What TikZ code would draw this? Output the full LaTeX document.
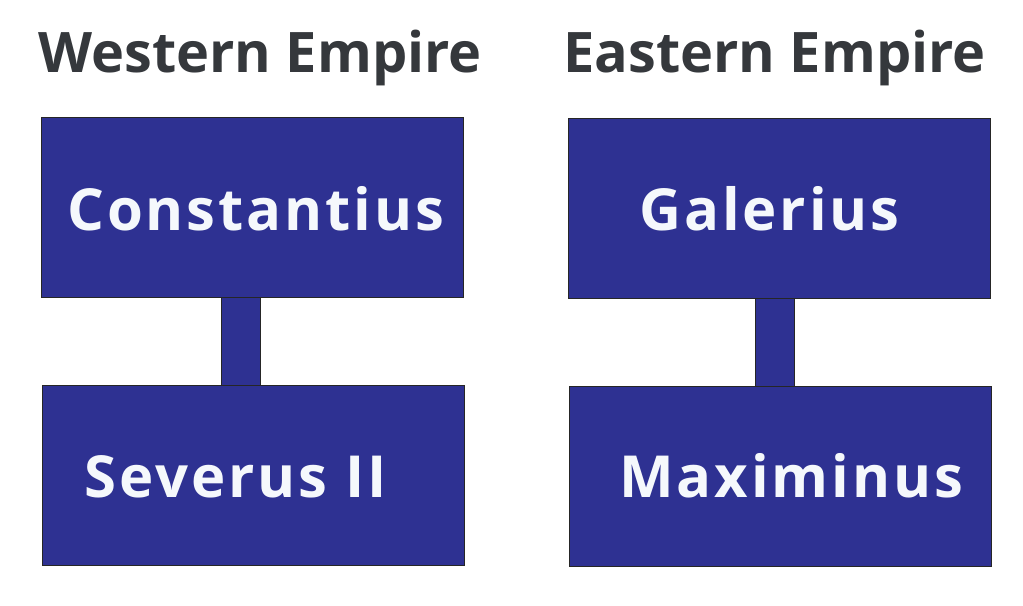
\documentclass[tikz,border=0pt]{standalone}
\usepackage{fontspec}
\setmainfont{Open Sans}
\newfontfamily\namefont[LetterSpace=5]{Open Sans}
\usetikzlibrary{positioning}
\definecolor{boxblue}{HTML}{2E3192}
\definecolor{headgray}{HTML}{35383C}
\definecolor{nametext}{HTML}{F5F8FC}

\begin{document}
\begin{tikzpicture}[x=0.02cm,y=-0.02cm,
  emperor/.style={draw=black!85,fill=boxblue,minimum width=8.44cm,minimum height=3.6cm,inner sep=0pt,anchor=north west},
  link/.style={draw=black!85,fill=boxblue},
  ruler/.style={text=nametext,inner sep=0pt,anchor=base west,font=\namefont\bfseries\fontsize{33}{40}\selectfont},
  heading/.style={text=headgray,inner sep=0pt,anchor=base west,font=\bfseries\fontsize{31.8}{40}\selectfont}]
\useasboundingbox (0,0) rectangle (1023,605);
% headings
\node[heading] (west) at (38,72) {Western Empire};
\node[heading] (east) at (563,72) {Eastern Empire};
% boxes
\node[emperor] (constantius) at (41,117) {};
\node[emperor] (severus) at (42,385) {};
\node[emperor] (galerius) at (568,118) {};
\node[emperor] (maximinus) at (569,386) {};
% links
\draw[link] ([xshift=3.6cm]constantius.south west) rectangle ([xshift=4.36cm]severus.north west);
\draw[link] ([xshift=3.74cm]galerius.south west) rectangle ([xshift=4.5cm]maximinus.north west);
% names
\node[ruler] (constantiusname) at (67,230) {Constantius};
\node[ruler] (severusname) at (84,497) {Severus II};
\node[ruler] (galeriusname) at (639,230) {Galerius};
\node[ruler] (maximinusname) at (619,497) {Maximinus};
\end{tikzpicture}
\end{document}
